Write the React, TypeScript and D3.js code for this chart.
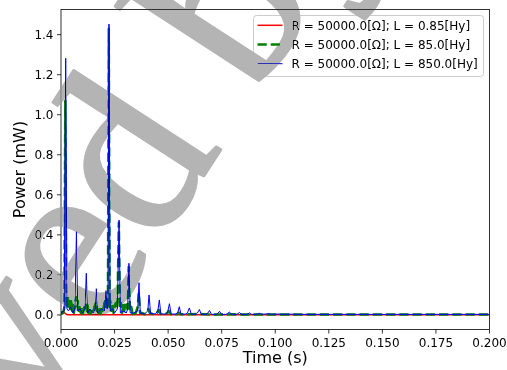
import React from 'react';
import * as d3 from 'd3';

const xTicks = [0, 0.025, 0.05, 0.075, 0.1, 0.125, 0.15, 0.175, 0.2];
const yTicks = [0, 0.2, 0.4, 0.6, 0.8, 1.0, 1.2, 1.4];
const legendLabels = [
  'R = 50000.0[Ω]; L = 0.85[Hy]',
  'R = 50000.0[Ω]; L = 85.0[Hy]',
  'R = 50000.0[Ω]; L = 850.0[Hy]',
];
const watermarkText = 'Approved by';

// [time (s), power (mW)]
const redSeries: [number, number][] = [
  [0, 0.015], [0.0008, 0.017], [0.0015, 0.013], [0.0022, 0.005], [0.003, 0.001], [0.05, 0.0005], [0.2, 0.0005],
];

const greenSeries: [number, number][] = [
  [0, 0.004], [0.001, 0.01], [0.0016, 0.04], [0.002, 1.069], [0.0024, 0.05], [0.0028, 0.08], [0.0031, 0.03],
  [0.0034, 0.085], [0.0037, 0.04], [0.004, 0.08], [0.0044, 0.03], [0.0048, 0.07], [0.0052, 0.02], [0.0056, 0.05],
  [0.006, 0.01], [0.0064, 0.04], [0.0068, 0.07], [0.0072, 0.09], [0.0076, 0.04], [0.008, 0.07], [0.0084, 0.02],
  [0.0088, 0.05], [0.0092, 0.01], [0.0097, 0.03], [0.0102, 0.005], [0.0107, 0.03], [0.0112, 0.05], [0.0116, 0.06],
  [0.012, 0.02], [0.0124, 0.05], [0.0128, 0.01], [0.0133, 0.03], [0.0138, 0.005], [0.0143, 0.02], [0.0148, 0.005],
  [0.0153, 0.03], [0.0158, 0.05], [0.0162, 0.06], [0.0166, 0.02], [0.017, 0.05], [0.0175, 0.01], [0.018, 0.03],
  [0.0185, 0.005], [0.019, 0.03], [0.0195, 0.01], [0.02, 0.05], [0.0205, 0.07], [0.021, 0.04], [0.0214, 0.06],
  [0.0219, 0.03], [0.0223, 1.43], [0.0227, 0.04], [0.0231, 0.07], [0.0235, 0.02], [0.024, 0.06], [0.0245, 0.01],
  [0.025, 0.04], [0.0255, 0.06], [0.026, 0.03], [0.0264, 0.08], [0.027, 0.46], [0.0275, 0.03], [0.028, 0.06],
  [0.0285, 0.01], [0.029, 0.05], [0.0295, 0.02], [0.03, 0.05], [0.0305, 0.06], [0.031, 0.03], [0.0316, 0.24],
  [0.0322, 0.02], [0.0328, 0.04], [0.0334, 0.005], [0.034, 0.02], [0.0346, 0.005], [0.0352, 0.02], [0.0358, 0.04],
  [0.0363, 0.11], [0.0369, 0.01], [0.0378, 0.01], [0.039, 0.003], [0.04, 0.01], [0.0408, 0.03], [0.0414, 0.01],
  [0.043, 0.003], [0.0448, 0.01], [0.0456, 0.025], [0.0464, 0.005], [0.048, 0.003], [0.0495, 0.008], [0.0503, 0.02],
  [0.0512, 0.004], [0.054, 0.003], [0.055, 0.012], [0.0558, 0.003], [0.06, 0.003], [0.065, 0.005], [0.07, 0.002],
  [0.08, 0.003], [0.09, 0.002], [0.2, 0.002],
];

const blueSeries: [number, number][] = [
  [0, 0.01], [0.0015, 0.02], [0.0022, 1.282], [0.0028, 0.03], [0.0035, 0.02], [0.0045, 0.04], [0.0055, 0.01],
  [0.0065, 0.03], [0.0072, 0.416], [0.0078, 0.02], [0.009, 0.03], [0.01, 0.01], [0.0112, 0.03], [0.0118, 0.208],
  [0.0124, 0.01], [0.0135, 0.03], [0.015, 0.01], [0.016, 0.03], [0.0165, 0.131], [0.017, 0.01], [0.018, 0.02],
  [0.019, 0.03], [0.0203, 0.02], [0.021, 0.121], [0.0215, 0.03], [0.0219, 0.05], [0.0224, 1.453], [0.0229, 0.02],
  [0.024, 0.03], [0.025, 0.01], [0.0263, 0.03], [0.0271, 0.474], [0.0277, 0.01], [0.029, 0.02], [0.0305, 0.01],
  [0.0311, 0.03], [0.0317, 0.258], [0.0323, 0.01], [0.034, 0.01], [0.0358, 0.02], [0.0364, 0.161], [0.037, 0.01],
  [0.039, 0.005], [0.0405, 0.02], [0.0411, 0.1], [0.0418, 0.008], [0.044, 0.005], [0.0452, 0.02], [0.0459, 0.075],
  [0.0466, 0.006], [0.0488, 0.004], [0.0498, 0.015], [0.0506, 0.056], [0.0514, 0.005], [0.0535, 0.004],
  [0.0545, 0.012], [0.0552, 0.041], [0.056, 0.004], [0.058, 0.004], [0.059, 0.01], [0.0599, 0.035], [0.0608, 0.004],
  [0.063, 0.003], [0.0637, 0.01], [0.0646, 0.027], [0.0655, 0.003], [0.0677, 0.003], [0.0685, 0.009],
  [0.0693, 0.022], [0.0702, 0.003], [0.0724, 0.003], [0.0732, 0.008], [0.074, 0.018], [0.0749, 0.003],
  [0.077, 0.003], [0.0778, 0.007], [0.0786, 0.015], [0.0795, 0.003], [0.0817, 0.003], [0.0825, 0.006],
  [0.0833, 0.012], [0.0842, 0.003], [0.0864, 0.003], [0.0872, 0.005], [0.088, 0.01], [0.0889, 0.003],
  [0.091, 0.003], [0.0927, 0.008], [0.0936, 0.003], [0.0973, 0.006], [0.0982, 0.003], [0.102, 0.005],
  [0.1029, 0.003], [0.107, 0.004], [0.111, 0.003], [0.2, 0.003],
];

const seriesStyles = [
  { data: redSeries, color: '#ff0000', width: 1.5, dash: undefined as string | undefined },
  { data: greenSeries, color: '#008000', width: 2.5, dash: '9.25 4' },
  { data: blueSeries, color: '#0000ff', width: 1, dash: undefined as string | undefined },
];

export default function App() {
  const W = 507, H = 370;
  const left = 61, right = 489.5, top = 9.5, bottom = 329.5;
  const x = d3.scaleLinear().domain([0, 0.2]).range([left, right]);
  const y = d3.scaleLinear().domain([-0.0727, 1.5257]).range([bottom, top]);
  const line = d3.line<[number, number]>().x(d => x(d[0])).y(d => y(d[1]));
  const font = 'DejaVu Sans';

  const legX = 253.5, legY = 15.5, legW = 230, legH = 61;
  const rowY = [25.3, 44.5, 63.7];

  return (
    <svg width={W} height={H} style={{ position: 'absolute', left: 0, top: 0 }} fontFamily={font}>
      <rect x={0} y={0} width={W} height={H} fill="#ffffff" />
      <defs>
        <clipPath id="plotclip">
          <rect x={left} y={top} width={right - left} height={bottom - top} />
        </clipPath>
      </defs>
      <g clipPath="url(#plotclip)">
        {seriesStyles.map((s, i) => (
          <path key={i} d={line(s.data) || ''} fill="none" stroke={s.color} strokeWidth={s.width}
            strokeDasharray={s.dash} strokeLinejoin="round" />
        ))}
      </g>
      <rect x={left} y={top} width={right - left} height={bottom - top} fill="none" stroke="#000" strokeWidth={0.8} />
      {xTicks.map(t => (
        <g key={'x' + t}>
          <line x1={x(t)} x2={x(t)} y1={bottom} y2={bottom + 4} stroke="#000" strokeWidth={0.8} />
          <text x={x(t)} y={bottom + 17.5} fontSize={12} textAnchor="middle" fill="#000">{t.toFixed(3)}</text>
        </g>
      ))}
      {yTicks.map(t => (
        <g key={'y' + t}>
          <line x1={left - 4} x2={left} y1={y(t)} y2={y(t)} stroke="#000" strokeWidth={0.8} />
          <text x={left - 7.5} y={y(t) + 4.3} fontSize={12} textAnchor="end" fill="#000">{t.toFixed(1)}</text>
        </g>
      ))}
      <text x={(left + right) / 2} y={363} fontSize={16} textAnchor="middle" fill="#000">Time (s)</text>
      <text transform={`translate(25,${(top + bottom) / 2}) rotate(-90)`} fontSize={16} textAnchor="middle" fill="#000">Power (mW)</text>
      <rect x={legX} y={legY} width={legW} height={legH} rx={3} fill="#ffffff" fillOpacity={0.8} stroke="#cccccc" strokeWidth={1} />
      {seriesStyles.map((s, i) => (
        <g key={'l' + i}>
          <line x1={257.5} x2={282.5} y1={rowY[i]} y2={rowY[i]} stroke={s.color} strokeWidth={s.width} strokeDasharray={s.dash} />
          <text x={291.5} y={rowY[i] + 4.3} fontSize={12} fill="#000">{legendLabels[i]}</text>
        </g>
      ))}
      <g style={{ mixBlendMode: 'darken' }}>
        <text transform="translate(157,248) rotate(-57)" x={-839.8} y={0} fontSize={240}
          fontFamily="Liberation Serif" fill="#b4b4b4" stroke="#b4b4b4" strokeWidth={3}
          strokeLinejoin="round" style={{ fontKerning: 'none' }}>{watermarkText}</text>
      </g>
    </svg>
  );
}
